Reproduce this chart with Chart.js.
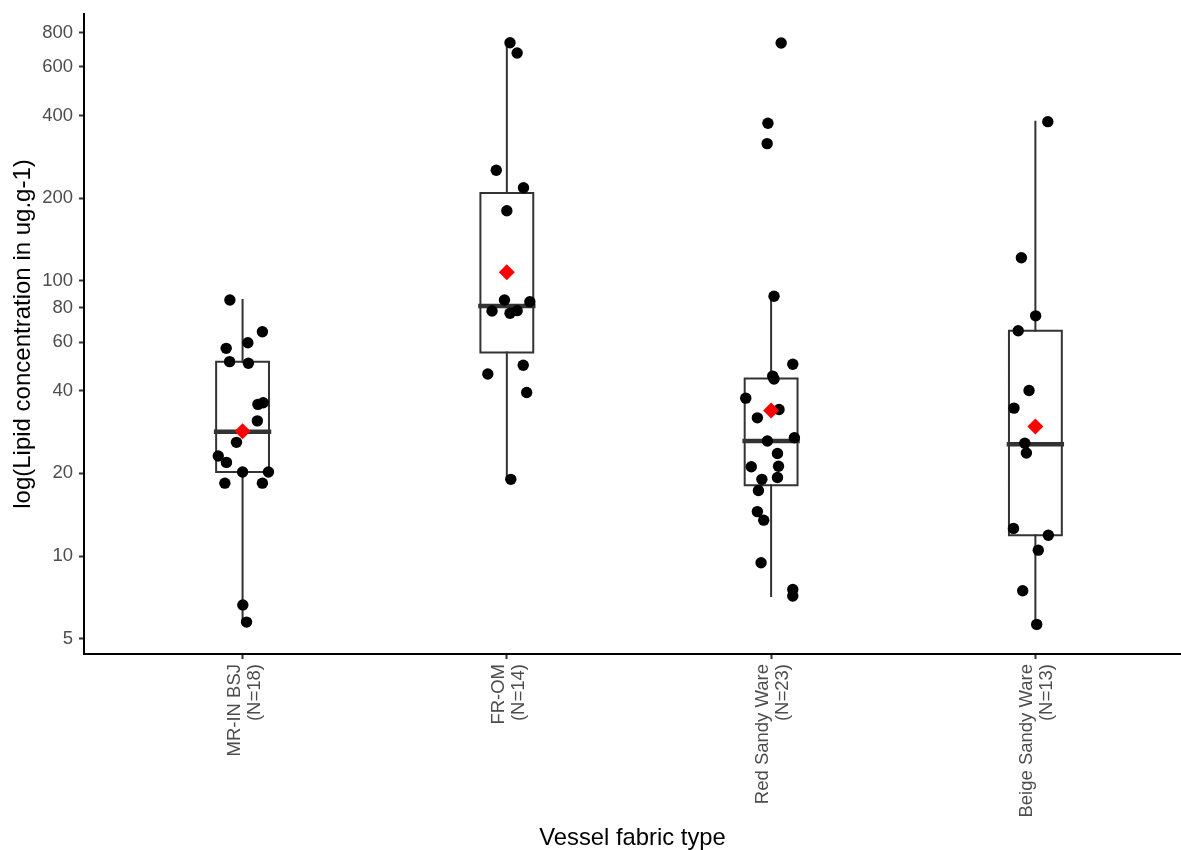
<!DOCTYPE html>
<html>
<head>
<meta charset="utf-8">
<script src="https://cdn.jsdelivr.net/npm/chart.js@4"></script>
<style>
html,body{margin:0;padding:0;background:#ffffff;overflow:hidden;}
#wrap{width:1181px;height:850px;}
canvas{display:block;}
</style>
</head>
<body>
<div id="wrap"><canvas id="c" width="1181" height="850"></canvas></div>
<script>
// ---------- data ----------
const categories = ["MR-IN BSJ", "FR-OM", "Red Sandy Ware", "Beige Sandy Ware"];
const counts = ["(N=18)", "(N=14)", "(N=23)", "(N=13)"];
const yTickValues = [5, 10, 20, 40, 60, 80, 100, 200, 400, 600, 800];

const mrinValues = [85.3, 65.4, 59.6, 56.9, 50.9, 50.2, 35.6, 36.1, 31.0, 25.9, 23.1, 21.9, 20.2, 20.2, 18.4, 18.4, 6.64, 5.75];
const mrinJitter = [-0.048, 0.075, 0.020, -0.062, -0.049, 0.022, 0.058, 0.078, 0.056, -0.023, -0.092, -0.061, 0.0, 0.098, -0.067, 0.075, 0.001, 0.015];

const fromValues = [735.5, 674.6, 252.7, 218.4, 180.1, 85.3, 84.1, 77.8, 76.3, 78.0, 49.4, 45.9, 39.3, 19.0];
const fromJitter = [0.012, 0.039, -0.040, 0.063, 0.0, -0.009, 0.087, -0.056, 0.012, 0.039, 0.062, -0.072, 0.075, 0.015];

const redValues = [733.8, 374.6, 315.9, 88.0, 49.8, 44.0, 45.1, 37.5, 34.1, 31.8, 26.2, 26.9, 23.6, 21.1, 21.2, 19.3, 19.0, 17.3, 14.5, 13.5, 9.45, 7.55, 7.15];
const redJitter = [0.038, -0.012, -0.015, 0.011, 0.082, 0.011, 0.006, -0.096, 0.030, -0.052, -0.014, 0.088, 0.024, -0.075, 0.028, 0.024, -0.035, -0.048, -0.052, -0.028, -0.038, 0.082, 0.082];

const beigeValues = [379.6, 121.5, 74.7, 65.9, 40.0, 34.5, 25.7, 23.7, 12.6, 11.9, 10.5, 7.48, 5.64];
const beigeJitter = [0.047, -0.053, 0.001, -0.065, -0.024, -0.081, -0.040, -0.034, -0.083, 0.049, 0.011, -0.048, 0.005];

const lowerWhisker = [5.75, 19.0, 7.15, 5.64];
const q1 = [20.2, 55.0, 18.1, 11.9];
const medians = [28.3, 81.1, 26.2, 25.5];
const q3 = [50.9, 208.9, 44.2, 65.9];
const upperWhisker = [85.3, 735.5, 88.0, 379.6];
const means = [28.4, 107.6, 33.8, 29.6];

// ---------- build datasets ----------
const BOX_HALF = 0.1;
const FONT = "'Liberation Sans', Arial, sans-serif";
const groupValues = [mrinValues, fromValues, redValues, beigeValues];
const groupJitter = [mrinJitter, fromJitter, redJitter, beigeJitter];

const pointData = [];
groupValues.forEach((vals, g) => vals.forEach((v, i) => pointData.push({x: g + 1 + groupJitter[g][i], y: v})));

const boxData = [], whiskerData = [], medianData = [], meanData = [];
categories.forEach((c, g) => {
  const x = g + 1;
  boxData.push({x: x - BOX_HALF, y: q1[g]}, {x: x + BOX_HALF, y: q1[g]}, {x: x + BOX_HALF, y: q3[g]},
               {x: x - BOX_HALF, y: q3[g]}, {x: x - BOX_HALF, y: q1[g]}, {x: x, y: null});
  whiskerData.push({x: x, y: lowerWhisker[g]}, {x: x, y: q1[g]}, {x: x, y: null},
                   {x: x, y: q3[g]}, {x: x, y: upperWhisker[g]}, {x: x, y: null});
  medianData.push({x: x - BOX_HALF, y: medians[g]}, {x: x + BOX_HALF, y: medians[g]}, {x: x, y: null});
  meanData.push({x: x, y: means[g]});
});

const lineDs = (data, width, order) => ({
  type: 'scatter', data, showLine: true, spanGaps: false, order,
  borderColor: '#333333', borderWidth: width, pointRadius: 0, pointHitRadius: 0,
  borderCapStyle: 'square', borderJoinStyle: 'miter', tension: 0, fill: false
});

Chart.defaults.font.family = FONT;

new Chart(document.getElementById('c'), {
  type: 'scatter',
  data: {
    datasets: [
      {data: meanData, order: 0, pointStyle: 'rectRot', pointRadius: 8, backgroundColor: '#FF0000', borderWidth: 0},
      {data: pointData, order: 1, pointRadius: 5.7, backgroundColor: '#000000', borderWidth: 0},
      lineDs(medianData, 4.5, 2),
      lineDs(boxData, 2, 3),
      lineDs(whiskerData, 2, 4)
    ]
  },
  options: {
    responsive: false,
    animation: false,
    devicePixelRatio: 1,
    layout: {autoPadding: false, padding: {top: 14, right: 0, bottom: 0, left: 0}},
    plugins: {legend: {display: false}, tooltip: {enabled: false}},
    scales: {
      x: {
        type: 'linear', min: 0.4, max: 4.551, bounds: 'data',
        afterBuildTicks: ax => { ax.ticks = categories.map((c, i) => ({value: i + 1})); },
        afterFit: ax => { ax.height = 196; ax.paddingLeft = 0; ax.paddingRight = 0; },
        grid: {display: true, drawOnChartArea: false, drawTicks: true, tickLength: 5, tickColor: '#333333', tickWidth: 2},
        border: {display: true, color: '#000000', width: 2},
        ticks: {
          autoSkip: false, minRotation: 90, maxRotation: 90, padding: 5, labelOffset: -8,
          color: '#4D4D4D', font: {family: FONT, size: 18.5, lineHeight: 1.08},
          callback: v => { const i = Math.round(v) - 1; return [categories[i], counts[i]]; }
        },
        title: {display: true, text: 'Vessel fabric type', color: '#000000',
                font: {family: FONT, size: 23.8, lineHeight: 1}, padding: {top: 0, bottom: 0}}
      },
      y: {
        type: 'logarithmic', min: 4.402, max: 935.1, bounds: 'data',
        afterBuildTicks: ax => { ax.ticks = yTickValues.map(v => ({value: v})); },
        afterFit: ax => { ax.width = 84; ax.paddingTop = 0; ax.paddingBottom = 0; },
        grid: {display: true, drawOnChartArea: false, drawTicks: true, tickLength: 5, tickColor: '#333333', tickWidth: 2},
        border: {display: true, color: '#000000', width: 2},
        ticks: {autoSkip: false, padding: 6, color: '#4D4D4D', font: {family: FONT, size: 18.5},
                callback: v => String(v)},
        title: {display: true, text: 'log(Lipid concentration in ug.g-1)', color: '#000000',
                font: {family: FONT, size: 24, lineHeight: 1}, padding: {top: 11, bottom: 0}}
      }
    }
  }
});
</script>
</body>
</html>
